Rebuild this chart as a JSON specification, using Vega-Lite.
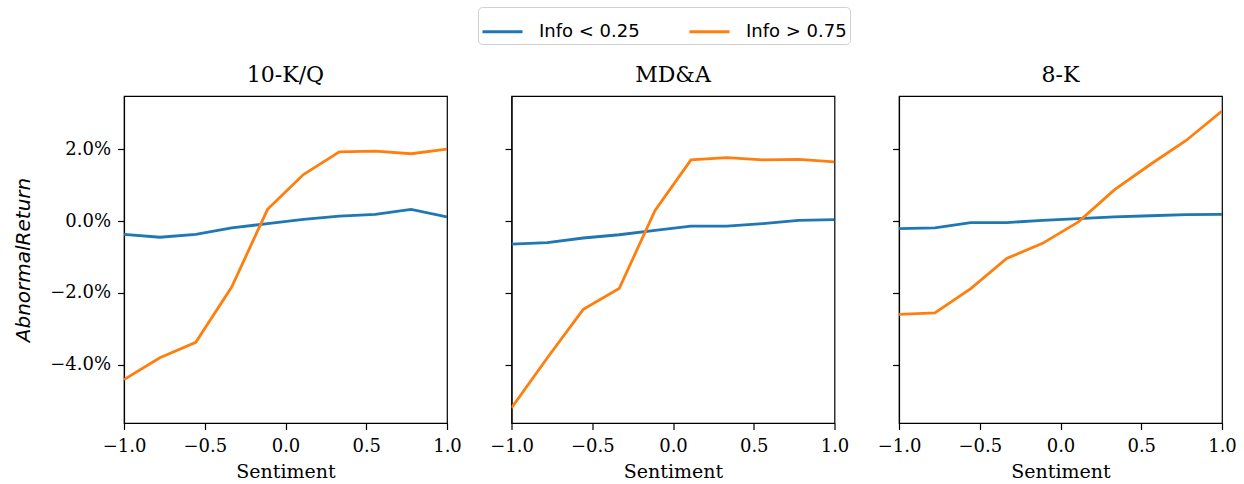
{
  "$schema": "https://vega.github.io/schema/vega-lite/v6.json",
  "padding": {"left": 13, "top": 6, "right": 10, "bottom": 5},
  "background": "white",
  "data": {"values": [
    {"doc": "10-K/Q", "grp": "Info < 0.25", "s": -1, "r": -0.0037},
    {"doc": "10-K/Q", "grp": "Info < 0.25", "s": -0.7778, "r": -0.0045},
    {"doc": "10-K/Q", "grp": "Info < 0.25", "s": -0.5556, "r": -0.0037},
    {"doc": "10-K/Q", "grp": "Info < 0.25", "s": -0.3333, "r": -0.0019},
    {"doc": "10-K/Q", "grp": "Info < 0.25", "s": -0.1111, "r": -0.0007},
    {"doc": "10-K/Q", "grp": "Info < 0.25", "s": 0.1111, "r": 0.0005},
    {"doc": "10-K/Q", "grp": "Info < 0.25", "s": 0.3333, "r": 0.0014},
    {"doc": "10-K/Q", "grp": "Info < 0.25", "s": 0.5556, "r": 0.0019},
    {"doc": "10-K/Q", "grp": "Info < 0.25", "s": 0.7778, "r": 0.0033},
    {"doc": "10-K/Q", "grp": "Info < 0.25", "s": 1, "r": 0.0012},
    {"doc": "10-K/Q", "grp": "Info > 0.75", "s": -1, "r": -0.0442},
    {"doc": "10-K/Q", "grp": "Info > 0.75", "s": -0.7778, "r": -0.0381},
    {"doc": "10-K/Q", "grp": "Info > 0.75", "s": -0.5556, "r": -0.0338},
    {"doc": "10-K/Q", "grp": "Info > 0.75", "s": -0.3333, "r": -0.0184},
    {"doc": "10-K/Q", "grp": "Info > 0.75", "s": -0.1111, "r": 0.0033},
    {"doc": "10-K/Q", "grp": "Info > 0.75", "s": 0.1111, "r": 0.0130},
    {"doc": "10-K/Q", "grp": "Info > 0.75", "s": 0.3333, "r": 0.0193},
    {"doc": "10-K/Q", "grp": "Info > 0.75", "s": 0.5556, "r": 0.0195},
    {"doc": "10-K/Q", "grp": "Info > 0.75", "s": 0.7778, "r": 0.0188},
    {"doc": "10-K/Q", "grp": "Info > 0.75", "s": 1, "r": 0.0201},
    {"doc": "MD&A", "grp": "Info < 0.25", "s": -1, "r": -0.0064},
    {"doc": "MD&A", "grp": "Info < 0.25", "s": -0.7778, "r": -0.0060},
    {"doc": "MD&A", "grp": "Info < 0.25", "s": -0.5556, "r": -0.0047},
    {"doc": "MD&A", "grp": "Info < 0.25", "s": -0.3333, "r": -0.0038},
    {"doc": "MD&A", "grp": "Info < 0.25", "s": -0.1111, "r": -0.0026},
    {"doc": "MD&A", "grp": "Info < 0.25", "s": 0.1111, "r": -0.0014},
    {"doc": "MD&A", "grp": "Info < 0.25", "s": 0.3333, "r": -0.0014},
    {"doc": "MD&A", "grp": "Info < 0.25", "s": 0.5556, "r": -0.0007},
    {"doc": "MD&A", "grp": "Info < 0.25", "s": 0.7778, "r": 0.0002},
    {"doc": "MD&A", "grp": "Info < 0.25", "s": 1, "r": 0.0004},
    {"doc": "MD&A", "grp": "Info > 0.75", "s": -1, "r": -0.0521},
    {"doc": "MD&A", "grp": "Info > 0.75", "s": -0.7778, "r": -0.0381},
    {"doc": "MD&A", "grp": "Info > 0.75", "s": -0.5556, "r": -0.0246},
    {"doc": "MD&A", "grp": "Info > 0.75", "s": -0.3333, "r": -0.0188},
    {"doc": "MD&A", "grp": "Info > 0.75", "s": -0.1111, "r": 0.0030},
    {"doc": "MD&A", "grp": "Info > 0.75", "s": 0.1111, "r": 0.0171},
    {"doc": "MD&A", "grp": "Info > 0.75", "s": 0.3333, "r": 0.0177},
    {"doc": "MD&A", "grp": "Info > 0.75", "s": 0.5556, "r": 0.0171},
    {"doc": "MD&A", "grp": "Info > 0.75", "s": 0.7778, "r": 0.0172},
    {"doc": "MD&A", "grp": "Info > 0.75", "s": 1, "r": 0.0165},
    {"doc": "8-K", "grp": "Info < 0.25", "s": -1, "r": -0.0021},
    {"doc": "8-K", "grp": "Info < 0.25", "s": -0.7778, "r": -0.0019},
    {"doc": "8-K", "grp": "Info < 0.25", "s": -0.5556, "r": -0.0004},
    {"doc": "8-K", "grp": "Info < 0.25", "s": -0.3333, "r": -0.0004},
    {"doc": "8-K", "grp": "Info < 0.25", "s": -0.1111, "r": 0.0002},
    {"doc": "8-K", "grp": "Info < 0.25", "s": 0.1111, "r": 0.0007},
    {"doc": "8-K", "grp": "Info < 0.25", "s": 0.3333, "r": 0.0012},
    {"doc": "8-K", "grp": "Info < 0.25", "s": 0.5556, "r": 0.0015},
    {"doc": "8-K", "grp": "Info < 0.25", "s": 0.7778, "r": 0.0018},
    {"doc": "8-K", "grp": "Info < 0.25", "s": 1, "r": 0.0019},
    {"doc": "8-K", "grp": "Info > 0.75", "s": -1, "r": -0.0260},
    {"doc": "8-K", "grp": "Info > 0.75", "s": -0.7778, "r": -0.0256},
    {"doc": "8-K", "grp": "Info > 0.75", "s": -0.5556, "r": -0.0188},
    {"doc": "8-K", "grp": "Info > 0.75", "s": -0.3333, "r": -0.0104},
    {"doc": "8-K", "grp": "Info > 0.75", "s": -0.1111, "r": -0.0062},
    {"doc": "8-K", "grp": "Info > 0.75", "s": 0.1111, "r": -0.0002},
    {"doc": "8-K", "grp": "Info > 0.75", "s": 0.3333, "r": 0.0087},
    {"doc": "8-K", "grp": "Info > 0.75", "s": 0.5556, "r": 0.0158},
    {"doc": "8-K", "grp": "Info > 0.75", "s": 0.7778, "r": 0.0225},
    {"doc": "8-K", "grp": "Info > 0.75", "s": 1, "r": 0.0307}
  ]},
  "spacing": 64.5,
  "bounds": "flush",
  "hconcat": [
    {
      "width": 323, "height": 327,
      "title": "10-K/Q",
      "transform": [{"filter": "datum.doc === '10-K/Q'"}],
      "mark": {"type": "line", "strokeWidth": 2.8, "clip": true},
      "encoding": {
        "x": {"field": "s", "type": "quantitative", "scale": {"domain": [-1, 1], "nice": false, "zero": false}, "axis": {"values": [-1, -0.5, 0, 0.5, 1], "format": ".1f", "title": "Sentiment"}},
        "y": {"field": "r", "type": "quantitative", "scale": {"domain": [-0.0563, 0.0349], "nice": false, "zero": false}, "axis": {"values": [-0.04, -0.02, 0, 0.02], "format": ".1%", "title": "AbnormalReturn"}},
        "color": {"field": "grp", "type": "nominal", "scale": {"domain": ["Info < 0.25", "Info > 0.75"], "range": ["#1f77b4", "#ff7f0e"]}}
      }
    },
    {
      "width": 323, "height": 327,
      "title": "MD&A",
      "transform": [{"filter": "datum.doc === 'MD&A'"}],
      "mark": {"type": "line", "strokeWidth": 2.8, "clip": true},
      "encoding": {
        "x": {"field": "s", "type": "quantitative", "scale": {"domain": [-1, 1], "nice": false, "zero": false}, "axis": {"values": [-1, -0.5, 0, 0.5, 1], "format": ".1f", "title": "Sentiment"}},
        "y": {"field": "r", "type": "quantitative", "scale": {"domain": [-0.0563, 0.0349], "nice": false, "zero": false}, "axis": {"values": [-0.04, -0.02, 0, 0.02], "labels": false, "title": null}},
        "color": {"field": "grp", "type": "nominal", "scale": {"domain": ["Info < 0.25", "Info > 0.75"], "range": ["#1f77b4", "#ff7f0e"]}}
      }
    },
    {
      "width": 323, "height": 327,
      "title": "8-K",
      "transform": [{"filter": "datum.doc === '8-K'"}],
      "mark": {"type": "line", "strokeWidth": 2.8, "clip": true},
      "encoding": {
        "x": {"field": "s", "type": "quantitative", "scale": {"domain": [-1, 1], "nice": false, "zero": false}, "axis": {"values": [-1, -0.5, 0, 0.5, 1], "format": ".1f", "title": "Sentiment"}},
        "y": {"field": "r", "type": "quantitative", "scale": {"domain": [-0.0563, 0.0349], "nice": false, "zero": false}, "axis": {"values": [-0.04, -0.02, 0, 0.02], "labels": false, "title": null}},
        "color": {"field": "grp", "type": "nominal", "scale": {"domain": ["Info < 0.25", "Info > 0.75"], "range": ["#1f77b4", "#ff7f0e"]}}
      }
    }
  ],
  "config": {
    "view": {"stroke": "#000", "strokeWidth": 1.2},
    "axis": {"labelFont": "DejaVu Serif", "labelFontSize": 18, "labelColor": "#000", "titleFont": "DejaVu Serif", "titleFontSize": 19, "titleFontWeight": "normal", "titleColor": "#000", "domainColor": "#000", "domainWidth": 1.2, "tickColor": "#000", "tickWidth": 1.2, "tickSize": 6.5, "labelPadding": 5, "grid": false, "labelFlush": false, "labelOverlap": false},
    "axisX": {"titlePadding": 7, "labelPadding": 8},
    "axisY": {"titleFont": "DejaVu Sans", "titleFontStyle": "italic", "titleFontSize": 20, "titlePadding": 16, "labelPadding": 7},
    "title": {"font": "DejaVu Serif", "fontSize": 22, "fontWeight": "normal", "color": "#000", "offset": 9},
    "legend": {"orient": "none", "legendX": 354, "legendY": -89, "direction": "horizontal", "title": null, "symbolType": "stroke", "symbolSize": 1600, "symbolStrokeWidth": 2.8, "labelFont": "DejaVu Sans", "labelFontSize": 18, "labelColor": "#000", "labelOffset": 15, "columnPadding": 43, "strokeColor": "#d0d0d0", "cornerRadius": 4, "padding": 3}
  }
}
